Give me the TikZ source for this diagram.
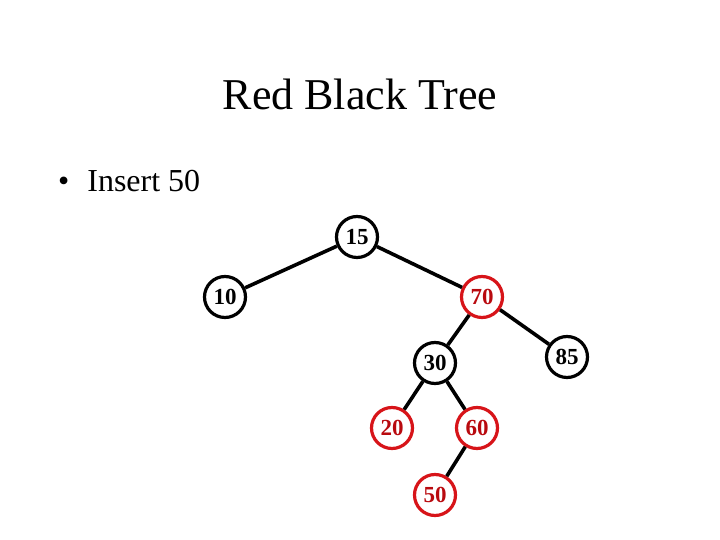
\documentclass[tikz,border=0pt]{standalone}
\usepackage{fontspec}
\setmainfont{Liberation Serif}
\definecolor{rbred}{RGB}{215,20,25}
\definecolor{rbtext}{RGB}{185,10,15}
\begin{document}
\begin{tikzpicture}[x=1pt,y=1pt,
  blacknode/.style={circle,draw=black,line width=3.2pt,minimum size=41pt,inner sep=0pt,font=\fontsize{23}{23}\selectfont\bfseries},
  rednode/.style={blacknode,draw=rbred,text=rbtext},
  edge/.style={line width=3.6pt,black}]
\useasboundingbox (0,0) rectangle (720,540);
\node[font=\fontsize{44}{44}\selectfont, anchor=base] (title) at (360,430) {Red Black Tree};
\node[font=\fontsize{32}{32}\selectfont, anchor=base west, inner sep=0pt] (item) at (58,348) {\textbullet\hspace{18pt}Insert 50};
\node[blacknode] (n15) at (357,303) {15};
\node[blacknode] (n10) at (225,243) {10};
\node[rednode] (n70) at (482,243) {70};
\node[blacknode] (n30) at (435,177) {30};
\node[blacknode] (n85) at (567,183) {85};
\node[rednode] (n20) at (392,112) {20};
\node[rednode] (n60) at (477,112) {60};
\node[rednode] (n50) at (435,45) {50};
\draw[edge] (n15) -- (n10);
\draw[edge] (n15) -- (n70);
\draw[edge] (n70) -- (n30);
\draw[edge] (n70) -- (n85);
\draw[edge] (n30) -- (n20);
\draw[edge] (n30) -- (n60);
\draw[edge] (n60) -- (n50);
\end{tikzpicture}
\end{document}
